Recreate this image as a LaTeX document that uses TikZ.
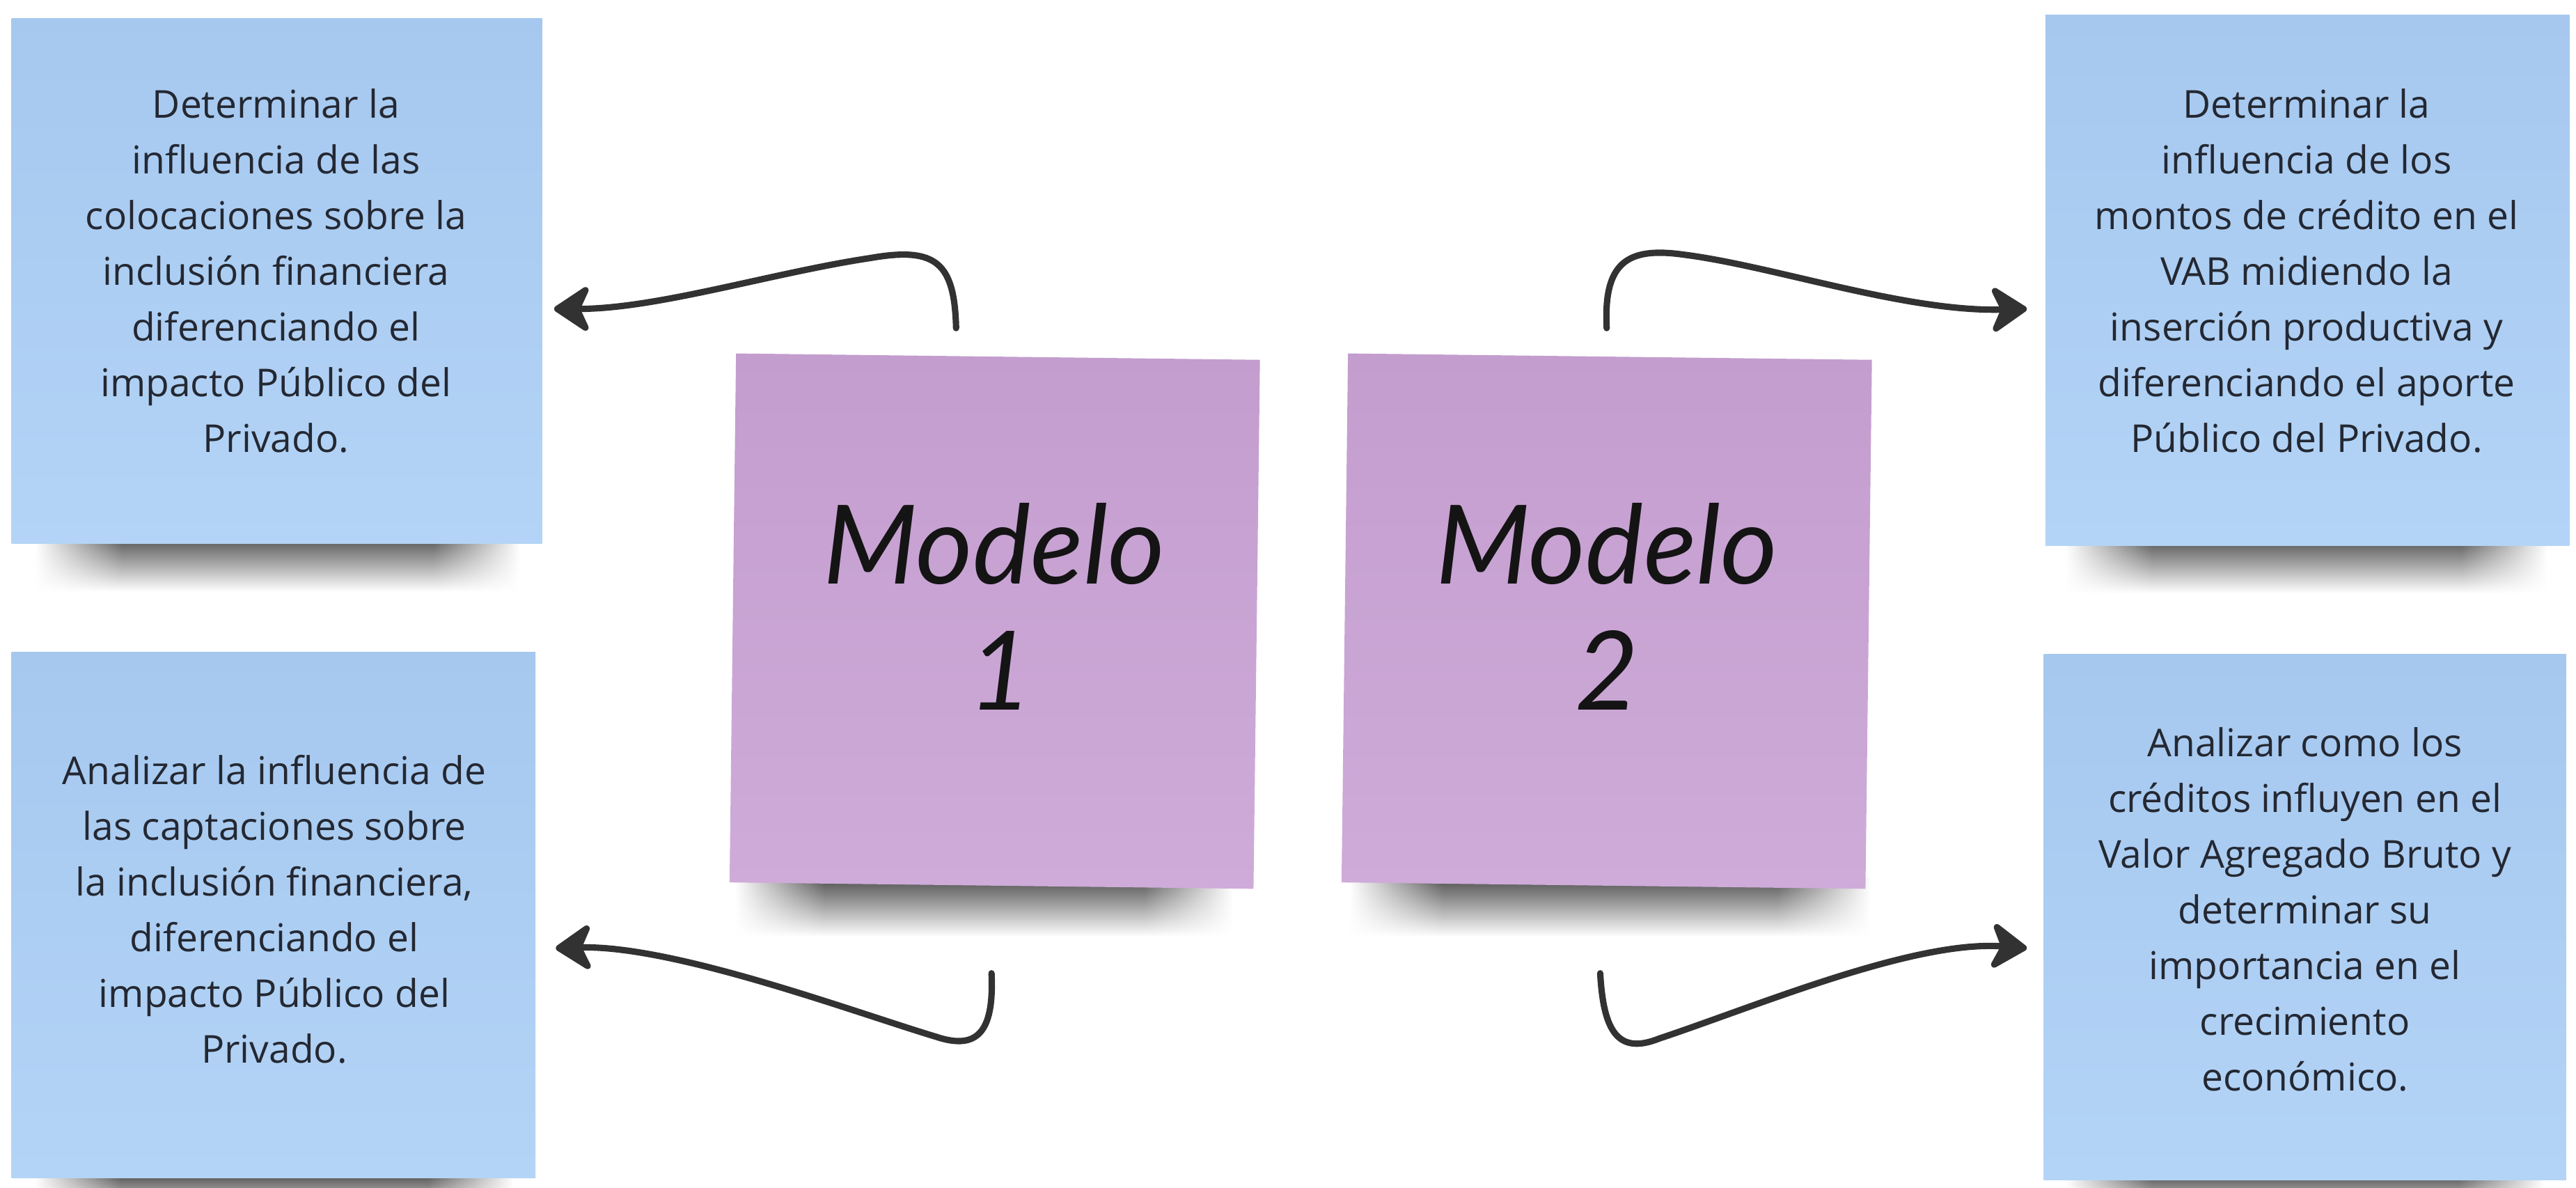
\documentclass[tikz,border=0pt]{standalone}
\usepackage{fontspec}
\setmainfont{Open Sans}
\newfontfamily\handfont{Lato Italic}
\usetikzlibrary{arrows.meta,calc,fadings}
\definecolor{bluetop}{RGB}{166,200,239}
\definecolor{bluebot}{RGB}{179,212,246}
\definecolor{purptop}{RGB}{195,157,206}
\definecolor{purpbot}{RGB}{206,171,217}
\definecolor{txtcol}{RGB}{36,40,50}
\definecolor{arrowcol}{RGB}{50,50,50}
\definecolor{shadowcol}{RGB}{80,80,80}
\pgfdeclarehorizontalshading{hsoftsh}{100bp}{color(0bp)=(pgftransparent!100); color(25bp)=(pgftransparent!100); color(34bp)=(pgftransparent!0); color(66bp)=(pgftransparent!0); color(75bp)=(pgftransparent!100); color(100bp)=(pgftransparent!100)}
\pgfdeclarefading{hsoft}{\pgfuseshading{hsoftsh}}
\begin{document}
\begin{tikzpicture}[x=0.02cm,y=-0.02cm,
  bluenote/.style={rectangle,inner sep=0pt,top color=bluetop,bottom color=bluebot,draw=none},
  purpnote/.style={rectangle,inner sep=0pt,top color=purptop,bottom color=purpbot,draw=none,
    minimum width=6.38cm,minimum height=6.44cm,rotate=-0.7},
  notetext/.style={align=center,text=txtcol,inner sep=0pt,font=\fontsize{13.3}{19.3}\selectfont},
  handtext/.style={text=black!92,inner sep=0pt,font=\handfont\fontsize{38}{40}\selectfont},
  shadowfill/.style={top color=shadowcol,bottom color=white,draw=none,path fading=hsoft},
  conn/.style={draw=arrowcol,line width=2.2pt,line cap=round,
    -{Stealth[length=0.5cm,width=0.66cm,inset=0.15cm,round]}}]
\useasboundingbox (0,0) rectangle (1568,722.6);
\fill[white] (0,0) rectangle (1568,722.6);

% shadows
\shade[shadowfill] (22,326) rectangle (316,360);
\shade[shadowfill] (1258,327) rectangle (1550,361);
\shade[shadowfill] (448,534) rectangle (750,570);
\shade[shadowfill] (822,534) rectangle (1138,570);
\shade[shadowfill] (22,714) rectangle (312,740);
\shade[shadowfill] (1258,714) rectangle (1548,740);

% blue notes
\node[bluenote,minimum width=6.46cm,minimum height=6.4cm] (n1) at (168.5,171) {};
\node[bluenote,minimum width=6.38cm,minimum height=6.4cm] (n2) at (166.5,557) {};
\node[bluenote,minimum width=6.38cm,minimum height=6.46cm] (n3) at (1404.5,170.5) {};
\node[bluenote,minimum width=6.36cm,minimum height=6.4cm] (n4) at (1403,558) {};

\node[notetext] (t1) at (168,165) {Determinar la\\influencia de las\\colocaciones sobre la\\inclusión financiera\\diferenciando el\\impacto Público del\\Privado.};
\node[notetext] (t2) at (167,553.5) {Analizar la influencia de\\las captaciones sobre\\la inclusión financiera,\\diferenciando el\\impacto Público del\\Privado.};
\node[notetext] (t3) at (1404,165) {Determinar la\\influencia de los\\montos de crédito en el\\VAB midiendo la\\inserción productiva y\\diferenciando el aporte\\Público del Privado.};
\node[notetext] (t4) at (1403,553.5) {Analizar como los\\créditos influyen en el\\Valor Agregado Bruto y\\determinar su\\importancia en el\\crecimiento\\económico.};

% purple notes
\node[purpnote] (m1) at (605.5,378) {};
\node[purpnote] (m2) at (978,378) {};
\node[handtext] (h1) at (605,331) {Modelo};
\node[handtext] (k1) at (609,408) {1};
\node[handtext] (h2) at (978,331) {Modelo};
\node[handtext] (k2) at (978,408) {2};

% connector end points
\coordinate (s1) at ($(m1.north)+(-25.5,-17)$);
\coordinate (e1) at ($(n1.east)+(7,17)$);
\coordinate (s2) at ($(m1.south)+(0,53)$);
\coordinate (e2) at ($(n2.east)+(12,20)$);
\coordinate (s3) at ($(m2.north)+(-2,-17)$);
\coordinate (e3) at ($(n3.west)+(-11,17.5)$);
\coordinate (s4) at ($(m2.south)+(-2,53)$);
\coordinate (e4) at ($(n4.west)+(-10,19)$);

\draw[conn] (s1) .. controls (581,160) and (570,150) .. (530,157) .. controls (470,166) and (400,188) .. (e1);
\draw[conn] (s2) .. controls (605,625) and (597,640) .. (570,631) .. controls (520,616) and (410,575) .. (e2);
\draw[conn] (s3) .. controls (976,160) and (990,150) .. (1025,155) .. controls (1080,162) and (1160,190) .. (e3);
\draw[conn] (s4) .. controls (976,628) and (985,642) .. (1010,632) .. controls (1070,612) and (1165,572) .. (e4);
\end{tikzpicture}
\end{document}
